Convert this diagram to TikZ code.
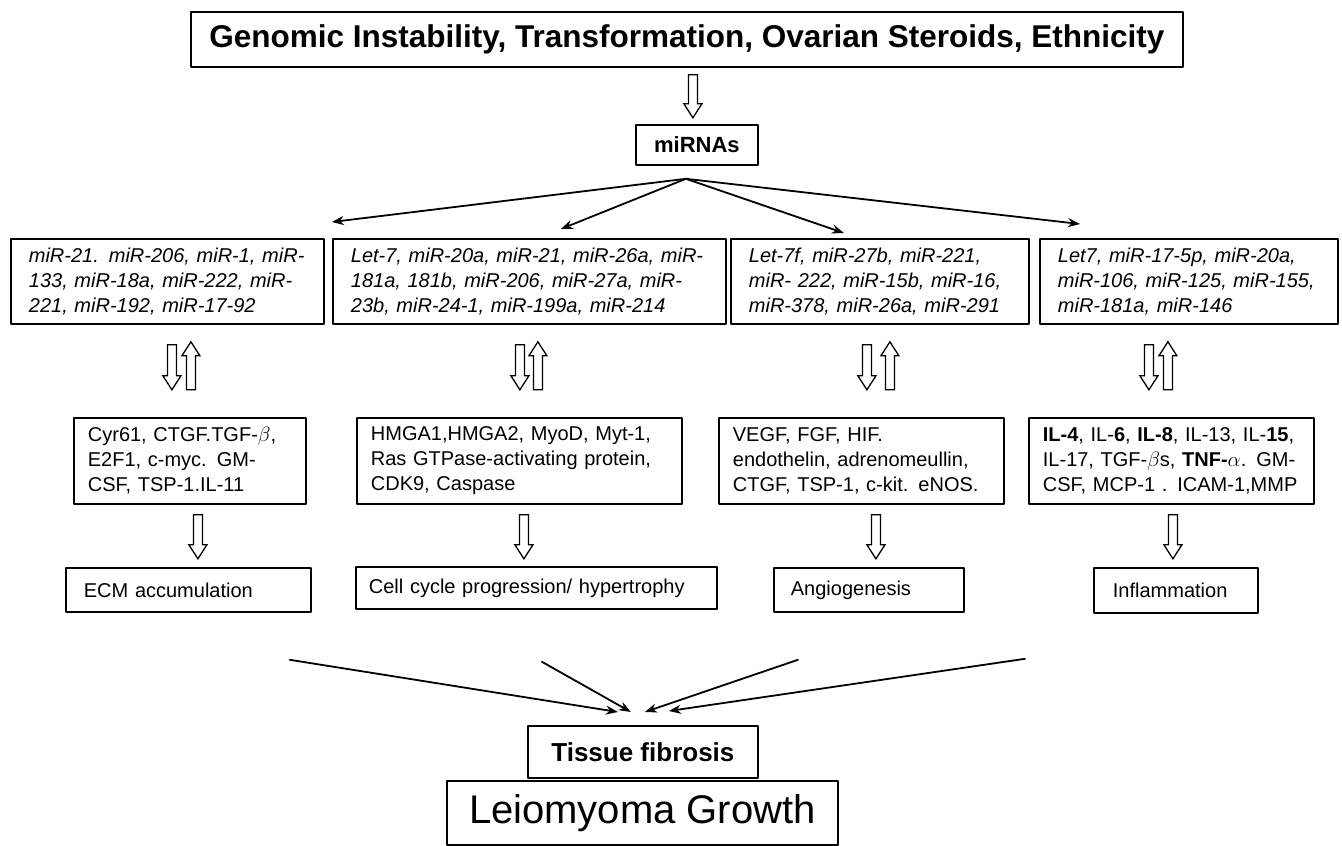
\documentclass[tikz,border=0pt]{standalone}
\usepackage{fontspec}
\setmainfont{Liberation Sans}
\usetikzlibrary{arrows.meta}
\begin{document}
\begin{tikzpicture}[x=1pt,y=-1pt,line join=round,line cap=round,>={Stealth[length=12pt,width=9pt]}]
	\tikzset{every node/.style={inner sep=0pt},
		box/.style={draw,line width=1.8pt,anchor=north west,align=left},
		mirbox/.style={box,inner xsep=18pt,minimum height=85pt,font=\fontsize{20}{25}\selectfont\itshape},
		genebox/.style={box,inner xsep=14pt,minimum height=86pt,font=\fontsize{20}{25}\selectfont},
		effbox/.style={box,font=\fontsize{20}{25}\selectfont},
		pics/hdown/.style={code={\draw[line width=1.3pt,line join=miter,fill=white] (-4.5,0) -- (-4.5,{#1-14}) -- (-9,{#1-14}) -- (0,#1) -- (9,{#1-14}) -- (4.5,{#1-14}) -- (4.5,0) -- cycle;}},
		link/.style={->,line width=1.8pt}}
	\useasboundingbox (0,0) rectangle (1342,846);
	\node[box,minimum width=992pt,minimum height=55pt,font=\fontsize{31.5}{36}\selectfont\bfseries] (top) at (190,11) {Genomic Instability, Transformation, Ovarian Steroids, Ethnicity};
	\node[box,minimum width=122pt,minimum height=40pt,font=\fontsize{22}{26}\selectfont\bfseries] (mir) at (635,124) {miRNAs};
	\node[mirbox,text width=277pt] (m1) at (10,238) {\makebox[\linewidth][s]{miR-21. miR-206, miR-1, miR-}\\\makebox[\linewidth][s]{133, miR-18a, miR-222, miR-}\\221, miR-192, miR-17-92};
	\node[mirbox,text width=357pt] (m2) at (332,238) {\makebox[\linewidth][s]{Let-7, miR-20a, miR-21, miR-26a, miR-}\\\makebox[\linewidth][s]{181a, 181b, miR-206, miR-27a, miR-}\\23b, miR-24-1, miR-199a, miR-214};
	\node[mirbox,text width=262pt] (m3) at (730,238) {Let-7f, miR-27b, miR-221,\\miR- 222, miR-15b, miR-16,\\miR-378, miR-26a, miR-291};
	\node[mirbox,text width=262pt] (m4) at (1039,238) {\makebox[\linewidth][s]{Let7, miR-17-5p, miR-20a,}\\\makebox[\linewidth][s]{miR-106, miR-125, miR-155,}\\miR-181a, miR-146};
	\node[genebox,text width=204pt] (f1) at (73,417) {Cyr61, CTGF.TGF-$\beta$,\\E2F1, c-myc. GM-\\CSF, TSP-1.IL-11};
	\node[genebox,text width=297pt] (f2) at (356,417) {HMGA1,HMGA2, MyoD, Myt-1,\\Ras GTPase-activating protein,\\CDK9, Caspase};
	\node[genebox,text width=257pt] (f3) at (718,417) {VEGF, FGF, HIF.\\endothelin, adrenomeullin,\\CTGF, TSP-1, c-kit. eNOS.};
	\node[genebox,text width=257pt] (f4) at (1028,417) {\textbf{IL-4}, IL-\textbf{6}, \textbf{IL-8}, IL-13, IL-\textbf{15},\\IL-17, TGF-$\beta$s, \textbf{TNF-}$\alpha$. GM-\\CSF, MCP-1 . ICAM-1,MMP};
	\node[effbox,inner xsep=18pt,text width=209pt,minimum height=44pt] (r1) at (65,567) {ECM accumulation};
	\node[effbox,inner xsep=13pt,text width=335pt,minimum height=42pt] (r2) at (355,566) {Cell cycle progression/ hypertrophy};
	\node[effbox,inner xsep=17pt,text width=156pt,minimum height=44pt] (r3) at (773,567) {Angiogenesis};
	\node[effbox,inner xsep=19pt,text width=126pt,minimum height=45pt] (r4) at (1093,567) {Inflammation};
	\node[box,minimum width=230pt,minimum height=52pt,font=\fontsize{26}{30}\selectfont\bfseries] (tis) at (527,725) {Tissue fibrosis};
	\node[box,minimum width=391pt,minimum height=64pt,font=\fontsize{40}{46}\selectfont] (leio) at (446,780) {Leiomyoma Growth};
	\pic at ([xshift=6pt,yshift=-7pt]top.south) {hdown=43};
	\coordinate (fan) at ([xshift=-11pt,yshift=-13pt]mir.south);
	\coordinate (t1) at ([xshift=7pt,yshift=16pt]m1.north east);
	\coordinate (t2) at ([xshift=31.5pt,yshift=9pt]m2.north);
	\coordinate (t3) at ([xshift=-36pt,yshift=5pt]m3.north);
	\coordinate (t4) at ([xshift=41pt,yshift=14pt]m4.north west);
	\foreach \t in {t1,t2,t3,t4}
		\draw[link] (fan) -- (\t);
	\foreach \m/\d/\u in {m1/4.5/23.5,m2/-9.5/8.5,m3/-13/10,m4/-40/-21}{
		\pic at ([xshift=\d pt,yshift=-20pt]\m.south) {hdown=45};
		\pic[rotate=180] at ([xshift=\u pt,yshift=-65pt]\m.south) {hdown=48};
	}
	\foreach \f/\s in {f1/8,f2/4.5,f3/14.5,f4/1.5}
		\pic at ([xshift=\s pt,yshift=-10pt]\f.south) {hdown=44};
	\coordinate (b1) at ([xshift=-22pt,yshift=-47pt]r1.south east);
	\coordinate (b2) at ([xshift=5.5pt,yshift=-52pt]r2.south);
	\coordinate (b3) at ([xshift=-71pt,yshift=-47pt]r3.south);
	\coordinate (b4) at ([xshift=-68pt,yshift=-45pt]r4.south west);
	\foreach \b/\s/\h in {b1/-25/13,b2/-12/13,b3/2/13,b4/26/14}
		\draw[link] (\b) -- ([xshift=\s pt,yshift=\h pt]tis.north);
\end{tikzpicture}
\end{document}
